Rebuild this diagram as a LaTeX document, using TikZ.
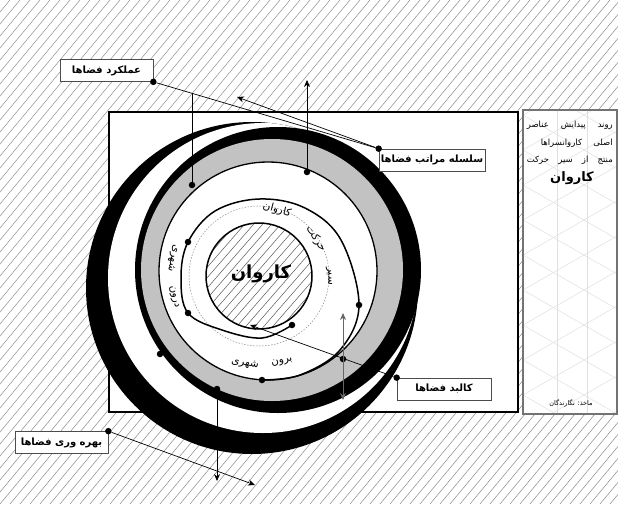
\documentclass[tikz,border=0pt]{standalone}
\usepackage{fontspec}
\newfontfamily\fa[Script=Arabic]{DejaVu Sans}
\TeXXeTstate=1
\usepackage{tikz}
\usetikzlibrary{arrows.meta,calc}
\definecolor{hatchgray}{HTML}{8C8C8C}
\definecolor{ringgray}{HTML}{C2C2C2}
\newcommand{\fatext}[1]{{\fa\beginR #1\endR}}

\begin{document}
\begin{tikzpicture}[x=1pt, y=-1pt,
    hatch/.style={draw=hatchgray, line width=0.5pt},
    gridline/.style={draw=black!12, line width=0.5pt},
    labelbox/.style={draw=black!70, fill=white, line width=0.7pt, minimum height=22pt, inner sep=0pt, font=\fa\bfseries\fontsize{10}{10}\selectfont},
    dot/.style={circle, fill=black, inner sep=0pt, minimum size=6.5pt},
    lead/.style={line width=0.7pt},
    arr/.style={-{Stealth[length=7pt,width=6pt]}, line width=0.7pt},
    ringtext/.style={font=\fa\fontsize{10.5}{10.5}\selectfont, inner sep=0pt},
    paneltext/.style={font=\fa\fontsize{8.5}{8.5}\selectfont, inner sep=0pt, anchor=east}
]
    \useasboundingbox (0,0) rectangle (618,504);
    % hatched ground
    \begin{scope}
        \clip (0,0) rectangle (618,504);
        \foreach \k in {-450,-440,...,620}
            \draw[hatch] (\k,504) -- ++(420,-504);
    \end{scope}

    % plan frame and side panel
    \draw[fill=white, line width=2.8pt] (109,112) rectangle (518,412);
    \fill[white] (523,110) rectangle (617,414);
    \begin{scope}
        \clip (523,110) rectangle (617,414);
        \foreach \x in {557,587}
            \draw[gridline] (\x,110) -- (\x,414);
        \foreach \k in {-60,-25,...,470} {
            \draw[gridline] (523,\k) -- ++(94,54);
            \draw[gridline] (523,\k) -- ++(94,-54);
        }
    \end{scope}
    \draw[black!55, line width=1.2pt] (523,110) rectangle (617,414);

    % rings
    \fill[black] (252,288) circle (166pt);
    \begin{scope}
        \clip (252,288) circle (166pt);
        \fill[white] (263,278) circle (155pt);
    \end{scope}
    \fill[black] (278,270) circle (143pt);
    \fill[ringgray] (272,270) circle (131pt);
    \draw[fill=white, line width=1.3pt] (268,271) circle (109pt);
    \draw[black!45, line width=0.5pt, dash pattern=on 1.5pt off 1.5pt] (259,276) circle (70pt);

    % caravan core
    \begin{scope}
        \clip (259,276) circle (53pt);
        \foreach \k in {90,99,...,330}
            \draw[hatch, draw=black!65] (\k,340) -- ++(113,-130);
    \end{scope}
    \draw[line width=1.5pt] (259,276) circle (53pt);

    % route
    \draw[line width=1.5pt] plot[smooth, tension=0.6] coordinates {
        (292,325) (262,338) (222,330) (188,313) (181,278) (188,242)
        (215,211) (259,199) (305,208) (341,240) (359,305) (340,350)
        (300,375) (262,380)};

    % ring labels
    \node[font=\fa\bfseries\fontsize{18}{18}\selectfont, inner sep=0pt] (core) at (261,274) {\fatext{کاروان}};
    \node[ringtext, rotate=-90] (route1) at (329,276) {\fatext{سیر}};
    \node[ringtext, rotate=-57] (route2) at (316,239) {\fatext{حرکت}};
    \node[ringtext, rotate=-15] (route3) at (277,210) {\fatext{کاروان}};
    \node[ringtext, rotate=-102] (inner1) at (173,258) {\fatext{شهری}};
    \node[ringtext, rotate=-76] (inner2) at (174,297) {\fatext{درون}};
    \node[ringtext, rotate=15] (outer1) at (282,362) {\fatext{برون}};
    \node[ringtext, rotate=-9] (outer2) at (245,364) {\fatext{شهری}};

    % side panel text
    \node[paneltext] (pline1) at (613,125) {\makebox[86pt]{\beginR روند\hfill پیدایش\hfill عناصر\endR}};
    \node[paneltext] (pline2) at (613,143) {\makebox[72pt]{\beginR اصلی\hfill کاروانسراها\endR}};
    \node[paneltext] (pline3) at (613,160) {\makebox[86pt]{\beginR منتج\hfill از\hfill سیر\hfill حرکت\endR}};
    \node[font=\fa\bfseries\fontsize{13}{13}\selectfont, inner sep=0pt] (pline4) at (572,178) {\fatext{کاروان}};
    \node[font=\fa\fontsize{6.5}{6.5}\selectfont, inner sep=0pt] (source) at (571,403) {\fatext{ماخذ: نگارندگان}};

    % label boxes
    \node[labelbox, minimum width=93pt] (funcbox) at (106.5,70.5) {\fatext{عملکرد فضاها}};
    \node[labelbox, minimum width=106pt] (hierbox) at (432,160) {\fatext{سلسله مراتب فضاها}};
    \node[labelbox, minimum width=94pt] (formbox) at (444,389) {\fatext{کالبد فضاها}};
    \node[labelbox, minimum width=93pt] (usebox) at (61.5,442.5) {\fatext{بهره وری فضاها}};

    \node[dot] (funcpt) at (funcbox.south east) {};
    \node[dot] (hierpt) at (hierbox.north west) {};
    \node[dot] (formpt) at (formbox.north west) {};
    \node[dot] (usept) at (usebox.north east) {};

    % dots on the rings
    \node[dot] (ringa) at (192,185) {};
    \node[dot] (ringb) at (307,172) {};
    \node[dot] (ringc) at (160,354) {};
    \node[dot] (ringd) at (217,389) {};
    \node[dot] (ringe) at (262,380) {};
    \node[dot] (routea) at (292,325) {};
    \node[dot] (routeb) at (188,242) {};
    \node[dot] (routec) at (188,313) {};
    \node[dot] (routed) at (359,305) {};
    \node[dot] (formjoin) at (343,359) {};

    \coordinate (funcjoin) at (192,94);
    \coordinate (hierend) at (237,97);
    \coordinate (upend) at (307,80);
    \coordinate (formend) at (250,325);
    \coordinate (vtop) at (343,313);
    \coordinate (vbot) at (343,400);
    \coordinate (usedown) at (217,481);
    \coordinate (useend) at (255,485);

    \draw[lead] (funcpt) -- (hierpt);
    \draw[arr] (hierpt) -- (hierend);
    \draw[lead] (funcjoin) -- (ringa);
    \draw[arr] (ringb) -- (upend);
    \draw[arr] (formpt) -- (formend);
    \draw[{Stealth[length=7pt,width=6pt]}-{Stealth[length=7pt,width=6pt]}, black!60, line width=0.7pt] (vtop) -- (vbot);
    \draw[arr] (ringd) -- (usedown);
    \draw[arr] (usept) -- (useend);
\end{tikzpicture}
\end{document}
